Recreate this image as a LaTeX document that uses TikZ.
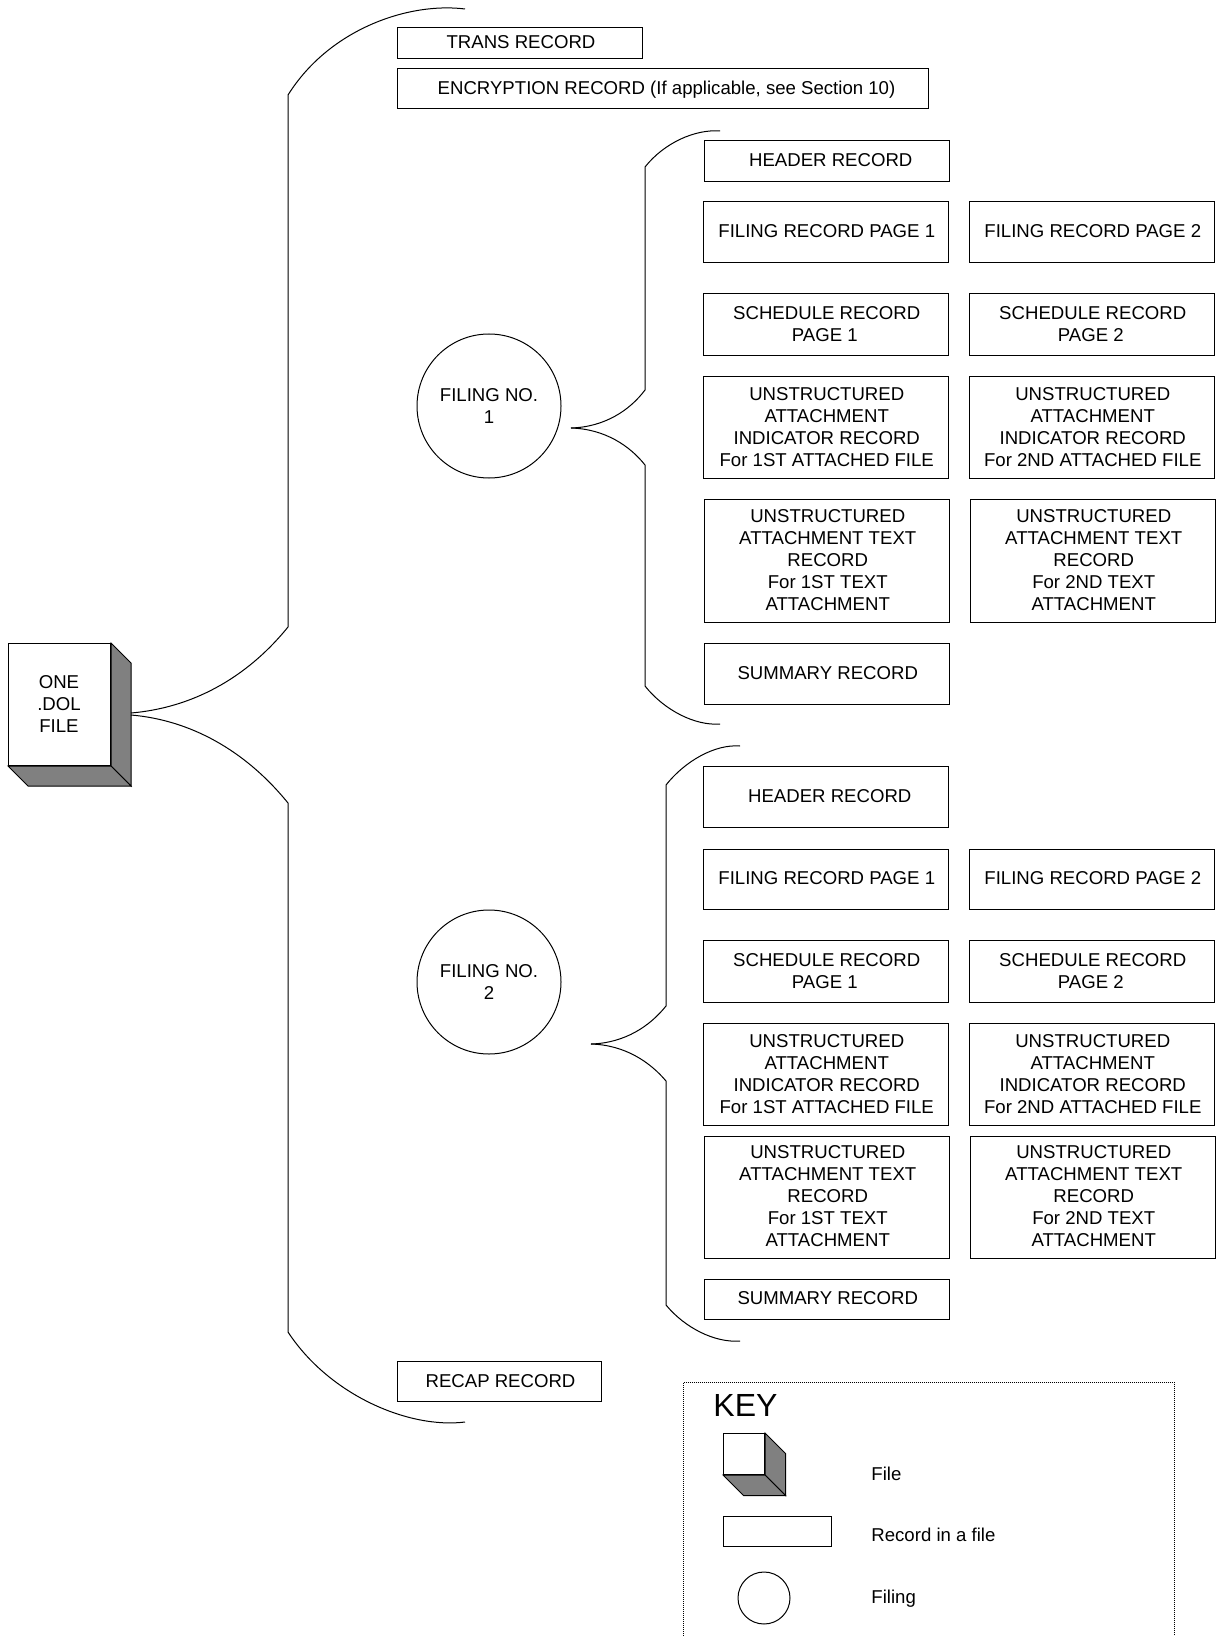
\documentclass[tikz,border=0pt]{standalone}
\usepackage{fontspec}
\setmainfont{Liberation Sans}
\tikzset{
  thinline/.style={draw=black,line width=0.5pt},
  recbox/.style={thinline,fill=white,rectangle,inner sep=0pt,font=\fontsize{9.3}{11}\selectfont},
  filingcircle/.style={thinline,fill=white,circle,inner sep=0pt,align=center,font=\fontsize{9.3}{11}\selectfont},
  plainlabel/.style={inner sep=0pt,anchor=west,font=\fontsize{9.3}{11}\selectfont},
  brace/.style={thinline,fill=none},
  sideface/.style={thinline,fill=black!50}
}
\newsavebox{\txtbox}
\newcommand{\boxtext}[1]{\sbox{\txtbox}{\begin{tabular}{@{}c@{}}#1\end{tabular}}\hspace*{1pt}\raisebox{-0.65pt}[\ht\txtbox][\dp\txtbox]{\usebox{\txtbox}}}
\newcommand{\recnode}[6]{\node[recbox,minimum width={(#4-#2-1)*0.5pt},minimum height={(#5-#3-1)*0.5pt}] (#1) at ({(#2+#4)/2},{(#3+#5)/2}) {\boxtext{#6}};}
\newcommand{\cubenode}[7]{%
  \node[recbox,minimum width={(#4-#2-1)*0.5pt},minimum height={(#5-#3-1)*0.5pt}] (#1) at ({(#2+#4)/2},{(#3+#5)/2}) {\boxtext{#7}};
  \draw[sideface] (#1.north east) -- ++(#6,#6) -- ++(0,#5-#3) -- (#1.south east) -- cycle;
  \draw[sideface] (#1.south west) -- ++(#6,#6) -- ++(#4-#2,0) -- (#1.south east) -- cycle;
}
\begin{document}
\begin{tikzpicture}[x=0.5pt,y=-0.5pt]
\useasboundingbox[fill=white] (0,0) rectangle (1218,1636);
% top-level records
\recnode{trans}{397}{27}{643}{59.5}{TRANS RECORD}
\recnode{encr}{397}{68}{929}{109}{\hspace{2.5pt}ENCRYPTION RECORD (If applicable, see Section 10)}
\recnode{recap}{397}{1361}{602}{1402}{RECAP RECORD}
% file
\cubenode{file}{8}{643}{111}{766}{20}{ONE\kern1.5pt\\.DOL\kern1.5pt\\FILE\kern1.5pt}
% filings
\node[filingcircle,minimum size=72pt] (fa) at (489,406) {FILING NO.\\1};
\node[filingcircle,minimum size=72pt] (fb) at (489,982) {FILING NO.\\2};
% filing 1
\recnode{ah}{703.5}{140}{950}{182}{\hspace{3pt}HEADER RECORD}
\recnode{afa}{702.5}{201.5}{949}{263}{FILING RECORD PAGE 1}
\recnode{afb}{968.5}{201.5}{1215}{263}{FILING RECORD PAGE 2}
\recnode{asa}{702.5}{293}{949}{356}{SCHEDULE RECORD\\PAGE 1\kern2pt}
\recnode{asb}{968.5}{293}{1215}{356}{SCHEDULE RECORD\\PAGE 2\kern2pt}
\recnode{aia}{702.5}{376}{949}{479}{UNSTRUCTURED\\ATTACHMENT\\INDICATOR RECORD\\For 1ST ATTACHED FILE}
\recnode{aib}{968.5}{376}{1215}{479}{UNSTRUCTURED\\ATTACHMENT\\INDICATOR RECORD\\For 2ND ATTACHED FILE}
\recnode{ata}{703.5}{499}{950}{623}{UNSTRUCTURED\\ATTACHMENT TEXT\\RECORD\\For 1ST TEXT\\ATTACHMENT}
\recnode{atb}{969.5}{499}{1216}{623}{UNSTRUCTURED\\ATTACHMENT TEXT\\RECORD\\For 2ND TEXT\\ATTACHMENT}
\recnode{asum}{703.5}{643}{950}{704.5}{SUMMARY RECORD}
% filing 2
\recnode{bh}{702.5}{766}{949}{828}{\hspace{3pt}HEADER RECORD}
\recnode{bfa}{702.5}{848.5}{949}{910}{FILING RECORD PAGE 1}
\recnode{bfb}{968.5}{848.5}{1215}{910}{FILING RECORD PAGE 2}
\recnode{bsa}{702.5}{940}{949}{1003}{SCHEDULE RECORD\\PAGE 1\kern2pt}
\recnode{bsb}{968.5}{940}{1215}{1003}{SCHEDULE RECORD\\PAGE 2\kern2pt}
\recnode{bia}{702.5}{1023}{949}{1126}{UNSTRUCTURED\\ATTACHMENT\\INDICATOR RECORD\\For 1ST ATTACHED FILE}
\recnode{bib}{968.5}{1023}{1215}{1126}{UNSTRUCTURED\\ATTACHMENT\\INDICATOR RECORD\\For 2ND ATTACHED FILE}
\recnode{bta}{703.5}{1135.5}{950}{1259}{UNSTRUCTURED\\ATTACHMENT TEXT\\RECORD\\For 1ST TEXT\\ATTACHMENT}
\recnode{btb}{969.5}{1135.5}{1216}{1259}{UNSTRUCTURED\\ATTACHMENT TEXT\\RECORD\\For 2ND TEXT\\ATTACHMENT}
\recnode{bsum}{703.5}{1278.5}{950}{1320}{SUMMARY RECORD}
% brace coordinates
\coordinate (ftipu) at (131,713);
\coordinate (ftipl) at (131,715);
\coordinate (futop) at (288,627);
\coordinate (fubot) at (288,95);
\coordinate (fuend) at (465,9);
\coordinate (fltop) at (288,803);
\coordinate (flbot) at (288,1332);
\coordinate (flend) at (465,1422);
\coordinate (atip) at (571,428);
\coordinate (btip) at (591,1044);
\coordinate (aue) at (720,131);
\coordinate (ale) at (720,724);
\coordinate (bue) at (740,746);
\coordinate (ble) at (740,1341);
% main brace
\draw[brace] (ftipu) .. controls (190,708) and (245,680) .. (futop) -- (fubot) .. controls (330,28) and (410,2) .. (fuend);
\draw[brace] (ftipl) .. controls (190,720) and (245,750) .. (fltop) -- (flbot) .. controls (330,1396) and (410,1429) .. (flend);
% filing 1 brace
\draw[brace] (atip) .. controls (605,427) and (630,410) .. (645,390) -- (645,167) .. controls (664,143) and (695,129) .. (aue);
\draw[brace] (atip) .. controls (605,429) and (630,446) .. (645,465) -- (645,686) .. controls (664,710) and (695,726) .. (ale);
% filing 2 brace
\draw[brace] (btip) .. controls (625,1043) and (650,1026) .. (666,1006) -- (666,785) .. controls (685,761) and (715,744) .. (bue);
\draw[brace] (btip) .. controls (625,1045) and (650,1062) .. (666,1081) -- (666,1305) .. controls (685,1328) and (715,1343) .. (ble);
% key
\draw[thinline,dash pattern=on 0.5pt off 0.5pt] (683.5,1636) -- (683.5,1382) -- (1174,1382) -- (1174,1636);
\node[inner sep=0pt,anchor=west,font=\fontsize{16}{18}\selectfont] (keyt) at (713,1405) {KEY};
\cubenode{kf}{723}{1433}{765}{1475}{20.5}{}
\recnode{kr}{723}{1515.5}{832}{1547}{}
\node[filingcircle,minimum size=26pt] (kc) at (764,1598) {};
\node[plainlabel] (kfl) at (871,1474) {File};
\node[plainlabel] (krl) at (871,1535) {Record in a file};
\node[plainlabel] (kcl) at (871,1599) {Filing};
\end{tikzpicture}
\end{document}
